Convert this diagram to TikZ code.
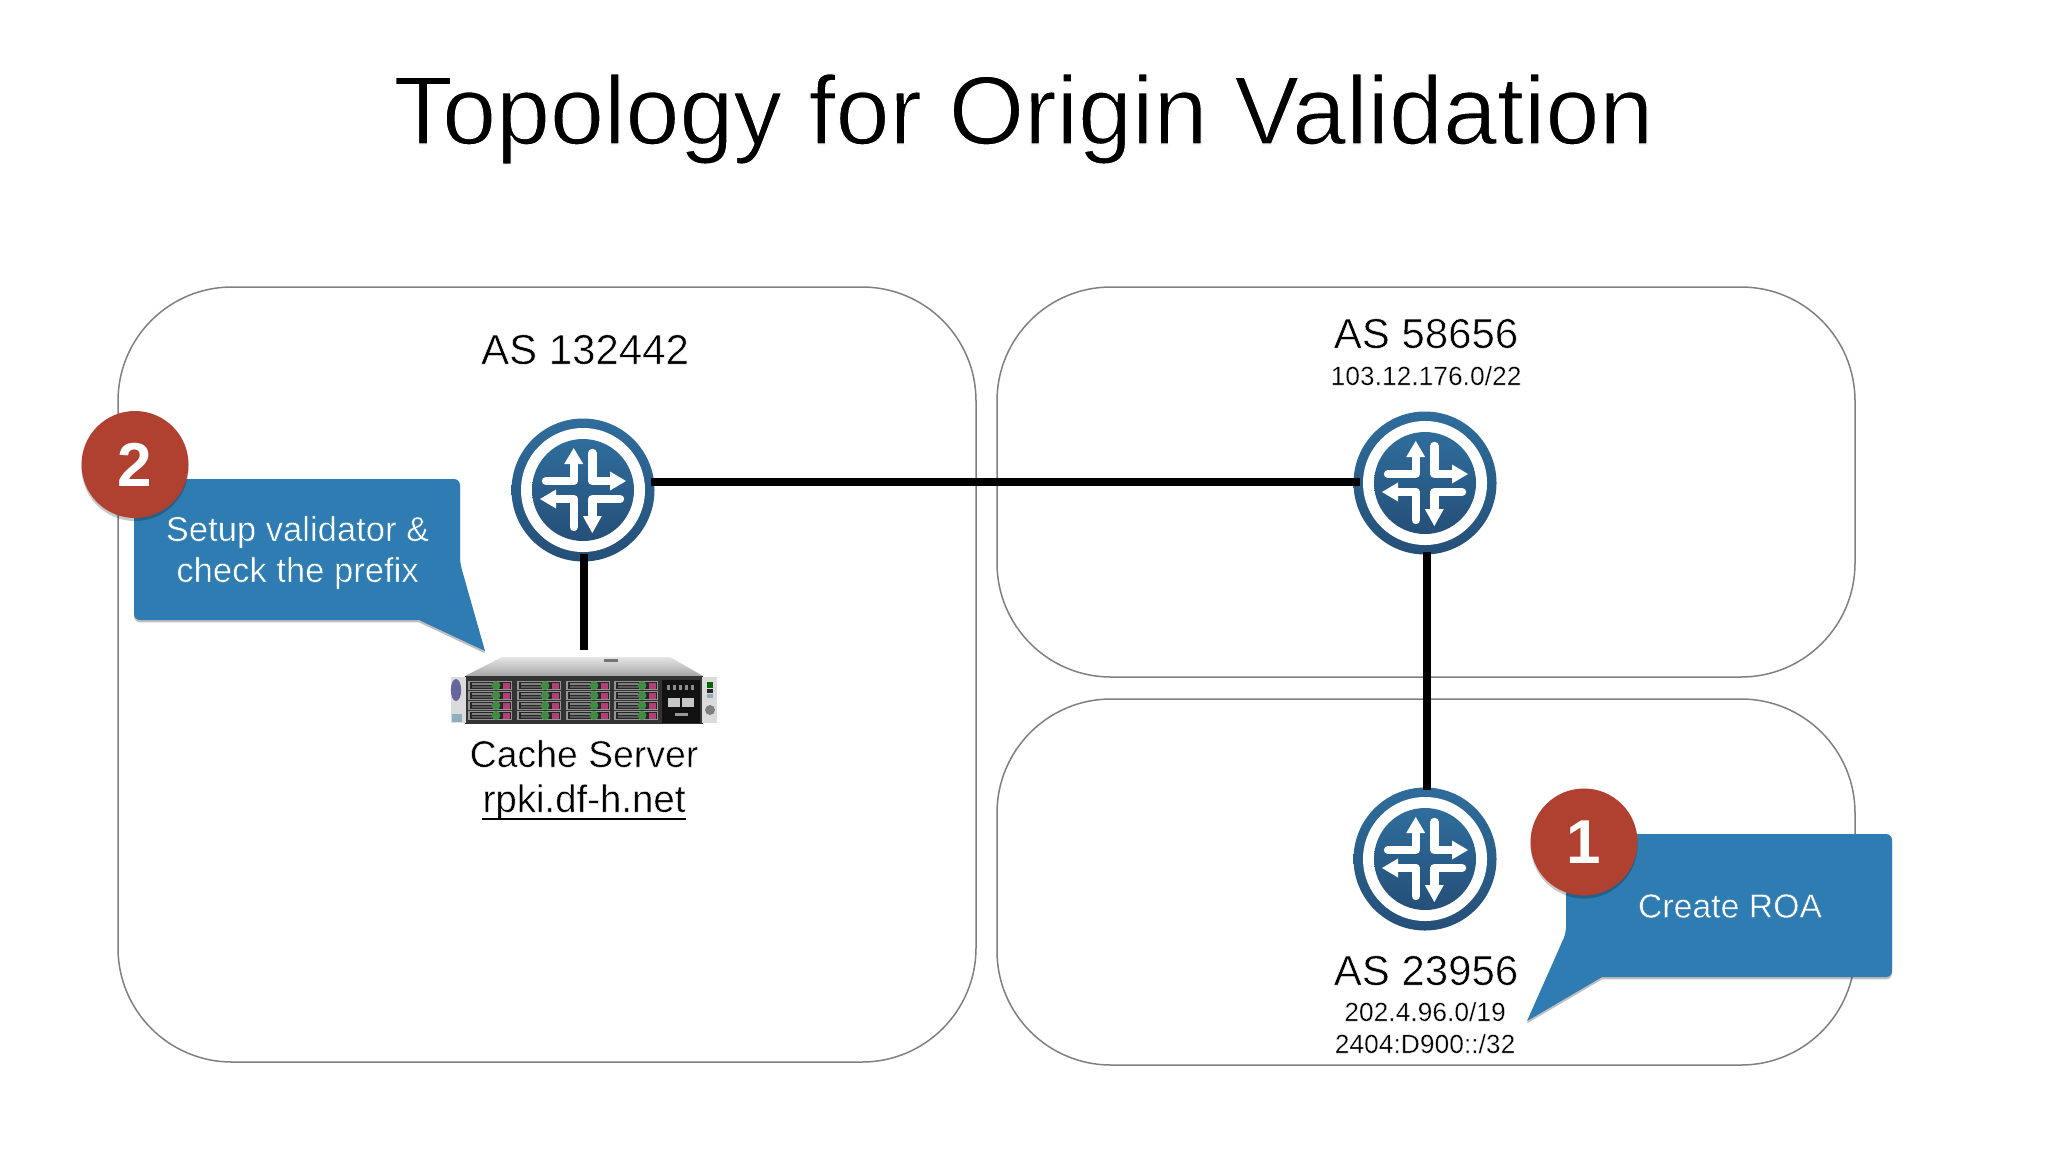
\documentclass[tikz,border=0pt]{standalone}
\usepackage{fontspec}
\setmainfont{Liberation Sans}
\usetikzlibrary{calc}
\definecolor{routerTop}{HTML}{2F6D9C}
\definecolor{routerBot}{HTML}{254F78}
\definecolor{calloutBlue}{HTML}{2E7CB1}
\definecolor{badgeRed}{HTML}{B04030}
\definecolor{borderGray}{HTML}{808080}
% light-weight look: glyph outlines are stroked in the background colour
\newcommand{\lighttext}[3]{\special{pdf:code 2 Tr #1 w #2 RG}#3\special{pdf:code 0 Tr 0.4 w 0 0 0 RG}}
\newcommand{\onwhite}[2]{\lighttext{#1}{1 1 1}{#2}}
\newcommand{\onblue}[1]{\lighttext{0.2}{0.18 0.486 0.694}{#1}}
\tikzset{
  x=0.5pt,y=-0.5pt,
  asbox/.style={draw=borderGray,line width=0.75pt,fill=white},
  wire/.style={draw=black,line width=4pt},
  routernode/.style={circle,inner sep=0pt,minimum size=71.5pt,shade,top color=routerTop,bottom color=routerBot},
  badge/.style={circle,inner sep=0pt,minimum size=53.5pt,fill=badgeRed,text=white,font=\fontsize{31}{32}\selectfont\bfseries,
     preaction={fill=black,opacity=.22,transform canvas={yshift=-1.5pt}}},
  callout/.style={fill=calloutBlue,preaction={fill=black,opacity=.25,transform canvas={yshift=-1.2pt}}},
  calltext/.style={text=white,inner sep=0pt,align=center,font=\fontsize{17.3}{20.5}\selectfont},
  lbl/.style={inner sep=0pt,anchor=base,text=black},
  lblbig/.style={lbl,font=\fontsize{21}{24}\selectfont},
  lblsmall/.style={lbl,font=\fontsize{13.2}{16}\selectfont},
  lblmid/.style={lbl,font=\fontsize{18.7}{22}\selectfont},
}
\newcommand{\routerglyph}[1]{%
  \begin{scope}[shift={(#1.center)}]
    \fill[white] (0,0) circle (31pt);
    \shade[top color=routerTop,bottom color=routerBot] (0,0) circle (25.5pt);
    \draw[white,line width=4.2pt,line cap=round,line join=round]
      (-37,-9)--(-9.3,-9)--(-9.3,-28)
      (9.3,-37)--(9.3,-9)--(28,-9)
      (37,9)--(9.3,9)--(9.3,28)
      (-9.3,37)--(-9.3,9)--(-28,9);
    \fill[white] (-9.3,-42)--(0.2,-26)--(-18.8,-26)--cycle
      (43,-9)--(27,-18.5)--(27,0.5)--cycle
      (9.3,43)--(18.8,26)--(-0.2,26)--cycle
      (-43,9)--(-27,18.5)--(-27,-0.5)--cycle;
  \end{scope}}
\begin{document}
\begin{tikzpicture}
\useasboundingbox (0,0) rectangle (2048,1152);
\fill[white] (0,0) rectangle (2048,1152);

\node[lbl,font=\fontsize{48.5}{56}\selectfont] (title) at (1023.5,144) {\onwhite{0.55}{Topology for Origin Validation}};

% AS boxes
\draw[asbox,rounded corners=57pt] (118,287) rectangle (976,1062);
\draw[asbox,rounded corners=57pt] (997,287) rectangle (1855,677);
\draw[asbox,rounded corners=57pt] (997,699) rectangle (1855,1065);

% routers
\node[routernode] (r1) at (583,490) {};
\node[routernode] (r2) at (1425,483) {};
\node[routernode] (r3) at (1425,859) {};
\routerglyph{r1}
\routerglyph{r2}
\routerglyph{r3}

% server
\begin{scope}
  \shade[top color=black!10,bottom color=black!35] (465,676)--(502,657)--(670,657)--(703,676)--cycle;
  \fill[black!55] (604,659) rectangle (618,662);
  \fill[black!80] (465,676) rectangle (703,724);
  \fill[black!14] (451,677) rectangle (466,723);
  \fill[black!14] (702,677) rectangle (717,723);
  \fill[blue!35!black!60] (456,690) ellipse (2.6pt and 5.5pt);
  \fill[cyan!50!black!55] (452,714) rectangle (462,722);
  \fill[green!40!black] (707,682) rectangle (713,688);
  \fill[black!85] (707,689) rectangle (713,693);
  \fill[cyan!45!black!55] (707,694) rectangle (713,698);
  \fill[black!50] (710,710) circle (2.5pt);
  \foreach \cx in {468,517,566,614}{
    \foreach \ry in {681,691,701,711}{
      \fill[black!42] (\cx,\ry) rectangle ++(44,9);
      \fill[black!85] (\cx+1.5,\ry+1) rectangle ++(41,7);
      \fill[black!50] (\cx+4,\ry+1.5) rectangle ++(20,2.5);
      \fill[black!65] (\cx+4,\ry+5) rectangle ++(20,2);
      \fill[green!40!black!75] (\cx+28,\ry+4.5) circle (2.2pt);
      \fill[red!55!magenta!60!black!75] (\cx+35,\ry+1.5) rectangle ++(6.5,6);
    }
  }
  \fill[black!93] (662,680) rectangle (700,723);
  \foreach \bx in {667,673,679,685,691}{\fill[black!45] (\bx,685) rectangle ++(3,5);}
  \fill[black!22] (668,698) rectangle (680,707);
  \fill[black!22] (682,698) rectangle (694,707);
  \fill[black!40] (675,713) rectangle (688,716);
\end{scope}
\coordinate (srvtop) at (584,650);

% connectors
\draw[wire] ($(r2.west)+(7,-1.5)$) -- ($(r2.west -| r1.east)+(-3.5,-1.5)$);
\draw[wire] ($(r2.south)+(2,-3)$) -- ($(r3.north)+(2,3)$);
\draw[wire] ($(r1.south)+(1,-8)$) -- (srvtop);

% callouts
\path[callout] (460,563) -- (485,651) -- (419,620) [rounded corners=3pt] -- (134,620) -- (134,479) -- (460,479) -- cycle;
\path[callout] (1566,933) -- (1527,1021) -- (1602,977) [rounded corners=3pt] -- (1892,977) -- (1892,834) -- (1566,834) -- cycle;
\node[badge] (b2) at (135,464.5) {2};
\node[badge] (b1) at (1584,842) {1};
\node[calltext] (c2) at (297.5,552.5) {\onblue{Setup validator \&}\\\onblue{check the prefix}};
\node[calltext,font=\fontsize{16.9}{20}\selectfont] (c1) at (1730,906) {\onblue{Create ROA}};

% labels
\node[lblbig] (as1) at (585,364) {\onwhite{0.25}{AS 132442}};
\node[lblbig] (as2) at (1426,348) {\onwhite{0.25}{AS 58656}};
\node[lblsmall] (p2) at (1426,385) {\onwhite{0.13}{103.12.176.0/22}};
\node[lblbig] (as3) at (1426,985) {\onwhite{0.25}{AS 23956}};
\node[lblsmall] (p3a) at (1425,1021) {\onwhite{0.13}{202.4.96.0/19}};
\node[lblsmall] (p3b) at (1425,1053) {\onwhite{0.13}{2404:D900::/32}};
\node[lblmid] (cs) at (584,767) {\onwhite{0.2}{Cache Server}};
\node[lblmid,font=\fontsize{19.2}{22}\selectfont] (url) at (584,812) {\onwhite{0.2}{rpki.df-h.net}};
\draw[black,line width=0.8pt] ([yshift=-3.4pt]url.base west) -- ([yshift=-3.4pt]url.base east);
\end{tikzpicture}
\end{document}
